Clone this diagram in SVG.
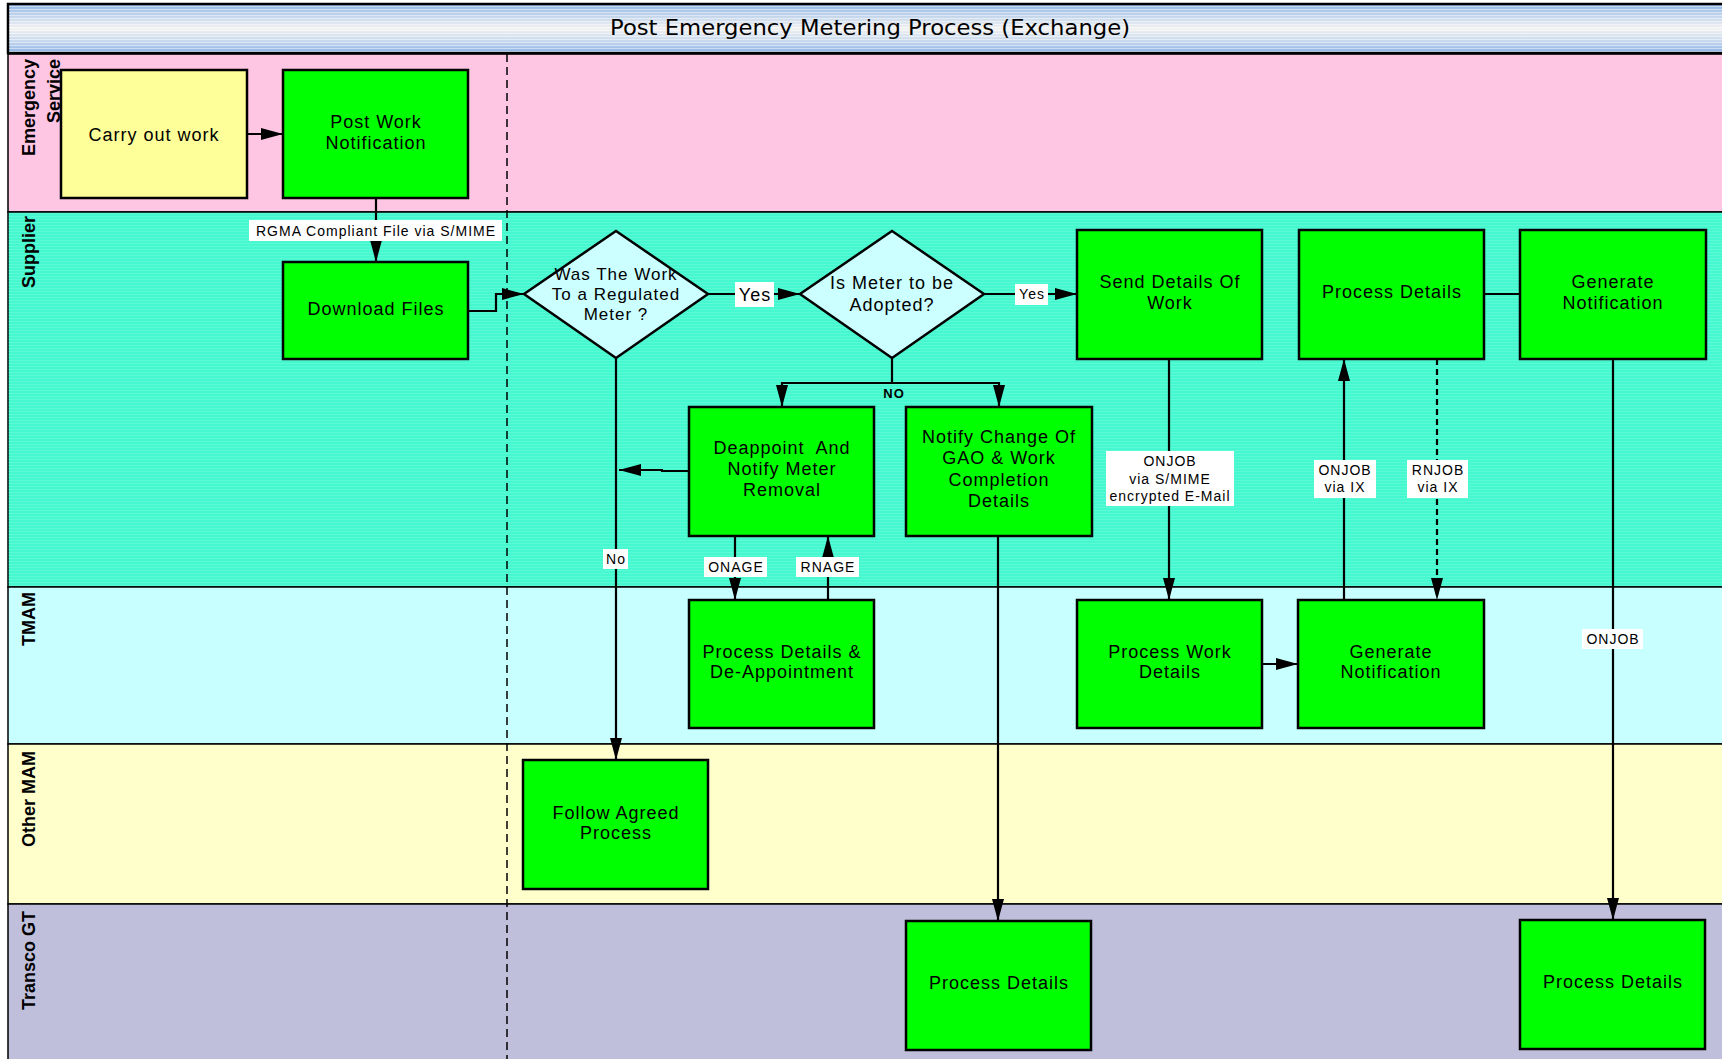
<svg xmlns="http://www.w3.org/2000/svg" width="1722" height="1059" viewBox="0 0 1722 1059">
<defs>
  <linearGradient id="titleGrad" x1="0" y1="0" x2="0" y2="1">
    <stop offset="0" stop-color="#8fb5e6"/>
    <stop offset="0.25" stop-color="#c4d6ec"/>
    <stop offset="0.5" stop-color="#f2f2f2"/>
    <stop offset="0.75" stop-color="#c8d9ee"/>
    <stop offset="1" stop-color="#8ab2e4"/>
  </linearGradient>
  <pattern id="titleStripes" width="4" height="3" patternUnits="userSpaceOnUse">
    <rect x="0" y="0" width="4" height="1" fill="#ffffff" fill-opacity="0.45"/>
  </pattern>
  <pattern id="laneStripes" width="4" height="3" patternUnits="userSpaceOnUse">
    <rect x="0" y="0" width="4" height="1" fill="#ffffff" fill-opacity="0.12"/>
  </pattern>
  <marker id="arrow" markerUnits="userSpaceOnUse" markerWidth="22" markerHeight="12" refX="22" refY="6" orient="auto">
    <path d="M0,0 L22,6 L0,12 z" fill="#000"/>
  </marker>
</defs>
<style>
  .lane { stroke: #000; stroke-width: 1.5; }
  .lanelabel { font-family: "Liberation Sans", Arial, sans-serif; font-size: 18px; font-weight: bold; fill: #000; }
  .box { fill: #00ff00; stroke: #000; stroke-width: 2.5; }
  .yellow { fill: #ffff99; }
  .dia { fill: #ccffff; stroke: #000; stroke-width: 2.5; }
  .t { font-family: "Liberation Sans", Arial, sans-serif; font-size: 18px; letter-spacing: 1px; fill: #000; text-anchor: middle; }
  .td { font-family: "Liberation Sans", Arial, sans-serif; font-size: 17px; letter-spacing: 1px; fill: #000; text-anchor: middle; }
  .conn { fill: none; stroke: #000; stroke-width: 2.2; }
  .dash { stroke-dasharray: 6 4; }
  .lbl { fill: #fff; }
  .lt { font-family: "Liberation Sans", Arial, sans-serif; font-size: 14px; letter-spacing: 1px; fill: #000; text-anchor: middle; }
</style>

<!-- lanes -->
<g id="lanes">
  <rect x="8" y="54" width="1716" height="158" fill="#ffc6e3" class="lane"/>
  <rect x="8" y="212" width="1716" height="375" fill="#46f8cf" class="lane"/>
  <rect x="8" y="587" width="1716" height="157" fill="#c8ffff" class="lane"/>
  <rect x="8" y="744" width="1716" height="160" fill="#ffffcc" class="lane"/>
  <rect x="8" y="904" width="1716" height="160" fill="#bfbfdb" class="lane"/>
  <rect x="8" y="212" width="1716" height="375" fill="url(#laneStripes)"/>
  <line x1="507" y1="54" x2="507" y2="1059" stroke="#000" stroke-width="1.5" stroke-dasharray="8 5"/>
  <text class="lanelabel" transform="translate(35,59) rotate(-90)" text-anchor="end">Emergency</text>
  <text class="lanelabel" transform="translate(60,59) rotate(-90)" text-anchor="end">Service</text>
  <text class="lanelabel" transform="translate(35,216) rotate(-90)" text-anchor="end">Supplier</text>
  <text class="lanelabel" transform="translate(35,592) rotate(-90)" text-anchor="end">TMAM</text>
  <text class="lanelabel" transform="translate(35,751) rotate(-90)" text-anchor="end">Other MAM</text>
  <text class="lanelabel" transform="translate(35,911) rotate(-90)" text-anchor="end">Transco GT</text>
</g>

<!-- title -->
<g id="title">
  <rect x="8" y="4" width="1716" height="49" fill="url(#titleGrad)" stroke="#000" stroke-width="2.5"/>
  <rect x="9" y="6" width="1714" height="46" fill="url(#titleStripes)"/>
  <text x="870" y="35" font-family="'DejaVu Sans', sans-serif" font-size="22" textLength="520" lengthAdjust="spacingAndGlyphs" text-anchor="middle" fill="#000">Post Emergency Metering Process (Exchange)</text>
</g>

<!-- connectors -->
<g id="connectors">
  <path class="conn" d="M247,134 L283,134" marker-end="url(#arrow)"/>
  <path class="conn" d="M376,198 L376,262" marker-end="url(#arrow)"/>
  <path class="conn" d="M468,311 L496,311 L496,294 L524,294" marker-end="url(#arrow)"/>
  <path class="conn" d="M708,294 L800,294" marker-end="url(#arrow)"/>
  <path class="conn" d="M984,294 L1077,294" marker-end="url(#arrow)"/>
  <path class="conn" d="M892,358 L892,383"/>
  <path class="conn" d="M892,383 L782,383 L782,407" marker-end="url(#arrow)"/>
  <path class="conn" d="M892,383 L999,383 L999,407" marker-end="url(#arrow)"/>
  <path class="conn" d="M616,358 L616,760" marker-end="url(#arrow)"/>
  <path class="conn" d="M689,471 L662,471 L662,470 L619,470" marker-end="url(#arrow)"/>
  <path class="conn" d="M735,536 L735,600" marker-end="url(#arrow)"/>
  <path class="conn" d="M828,600 L828,536" marker-end="url(#arrow)"/>
  <path class="conn" d="M998,536 L998,921" marker-end="url(#arrow)"/>
  <path class="conn" d="M1169,359 L1169,600" marker-end="url(#arrow)"/>
  <path class="conn" d="M1262,664 L1298,664" marker-end="url(#arrow)"/>
  <path class="conn" d="M1344,600 L1344,359" marker-end="url(#arrow)"/>
  <path class="conn dash" d="M1437,359 L1437,600" marker-end="url(#arrow)"/>
  <path class="conn" d="M1484,294 L1520,294"/>
  <path class="conn" d="M1613,359 L1613,920" marker-end="url(#arrow)"/>

  <rect class="lbl" x="249" y="220" width="253" height="21"/>
  <text class="lt" x="376" y="236">RGMA Compliant File via S/MIME</text>
  <rect class="lbl" x="735" y="282" width="39" height="25"/>
  <text class="lt" x="755" y="301" style="font-size:18px">Yes</text>
  <rect class="lbl" x="1015" y="284" width="33" height="21"/>
  <text class="lt" x="1032" y="299">Yes</text>
  <text class="lt" x="894" y="398" style="font-size:13px;font-weight:bold">NO</text>
  <rect class="lbl" x="603" y="549" width="25" height="20"/>
  <text class="lt" x="616" y="564">No</text>
  <rect class="lbl" x="704" y="557" width="63" height="20"/>
  <text class="lt" x="736" y="572">ONAGE</text>
  <rect class="lbl" x="796" y="557" width="63" height="20"/>
  <text class="lt" x="828" y="572">RNAGE</text>
  <rect class="lbl" x="1106" y="451" width="128" height="55"/>
  <text class="lt" x="1170" y="466">ONJOB</text>
  <text class="lt" x="1170" y="484">via S/MIME</text>
  <text class="lt" x="1170" y="501">encrypted E-Mail</text>
  <rect class="lbl" x="1314" y="460" width="62" height="38"/>
  <text class="lt" x="1345" y="475">ONJOB</text>
  <text class="lt" x="1345" y="492">via IX</text>
  <rect class="lbl" x="1407" y="460" width="61" height="38"/>
  <text class="lt" x="1438" y="475">RNJOB</text>
  <text class="lt" x="1438" y="492">via IX</text>
  <rect class="lbl" x="1582" y="629" width="61" height="20"/>
  <text class="lt" x="1613" y="644">ONJOB</text>
</g>

<!-- nodes -->
<g id="n-carry">
  <rect class="box yellow" x="61" y="70" width="186" height="128"/>
  <text class="t" x="154" y="141">Carry out work</text>
</g>
<g id="n-postwork">
  <rect class="box" x="283" y="70" width="185" height="128"/>
  <text class="t" x="376" y="128">Post Work</text>
  <text class="t" x="376" y="149">Notification</text>
</g>
<g id="n-download">
  <rect class="box" x="283" y="262" width="185" height="97"/>
  <text class="t" x="376" y="315">Download Files</text>
</g>
<g id="n-dec-regulated">
  <polygon class="dia" points="616,231 708,294 616,358 524,294"/>
  <text class="td" x="616" y="280">Was The Work</text>
  <text class="td" x="616" y="300">To a Regulated</text>
  <text class="td" x="616" y="320">Meter ?</text>
</g>
<g id="n-dec-adopted">
  <polygon class="dia" points="892,231 984,294 892,358 800,294"/>
  <text class="t" x="892" y="289">Is Meter to be</text>
  <text class="t" x="892" y="311">Adopted?</text>
</g>
<g id="n-deappoint">
  <rect class="box" x="689" y="407" width="185" height="129"/>
  <text class="t" x="782" y="454" style="white-space:pre">Deappoint  And</text>
  <text class="t" x="782" y="475">Notify Meter</text>
  <text class="t" x="782" y="496">Removal</text>
</g>
<g id="n-notifychange">
  <rect class="box" x="906" y="407" width="186" height="129"/>
  <text class="t" x="999" y="443">Notify Change Of</text>
  <text class="t" x="999" y="464">GAO &amp; Work</text>
  <text class="t" x="999" y="486">Completion</text>
  <text class="t" x="999" y="507">Details</text>
</g>
<g id="n-senddetails">
  <rect class="box" x="1077" y="230" width="185" height="129"/>
  <text class="t" x="1170" y="288">Send Details Of</text>
  <text class="t" x="1170" y="309">Work</text>
</g>
<g id="n-processdetails-supplier">
  <rect class="box" x="1299" y="230" width="185" height="129"/>
  <text class="t" x="1392" y="298">Process Details</text>
</g>
<g id="n-gennotif-supplier">
  <rect class="box" x="1520" y="230" width="186" height="129"/>
  <text class="t" x="1613" y="288">Generate</text>
  <text class="t" x="1613" y="309">Notification</text>
</g>
<g id="n-process-deappointment">
  <rect class="box" x="689" y="600" width="185" height="128"/>
  <text class="t" x="782" y="658">Process Details &amp;</text>
  <text class="t" x="782" y="678">De-Appointment</text>
</g>
<g id="n-processwork">
  <rect class="box" x="1077" y="600" width="185" height="128"/>
  <text class="t" x="1170" y="658">Process Work</text>
  <text class="t" x="1170" y="678">Details</text>
</g>
<g id="n-gennotif-tmam">
  <rect class="box" x="1298" y="600" width="186" height="128"/>
  <text class="t" x="1391" y="658">Generate</text>
  <text class="t" x="1391" y="678">Notification</text>
</g>
<g id="n-follow">
  <rect class="box" x="523" y="760" width="185" height="129"/>
  <text class="t" x="616" y="819">Follow Agreed</text>
  <text class="t" x="616" y="839">Process</text>
</g>
<g id="n-transco-pd1">
  <rect class="box" x="906" y="921" width="185" height="129"/>
  <text class="t" x="999" y="989">Process Details</text>
</g>
<g id="n-transco-pd2">
  <rect class="box" x="1520" y="920" width="185" height="129"/>
  <text class="t" x="1613" y="988">Process Details</text>
</g>
</svg>
